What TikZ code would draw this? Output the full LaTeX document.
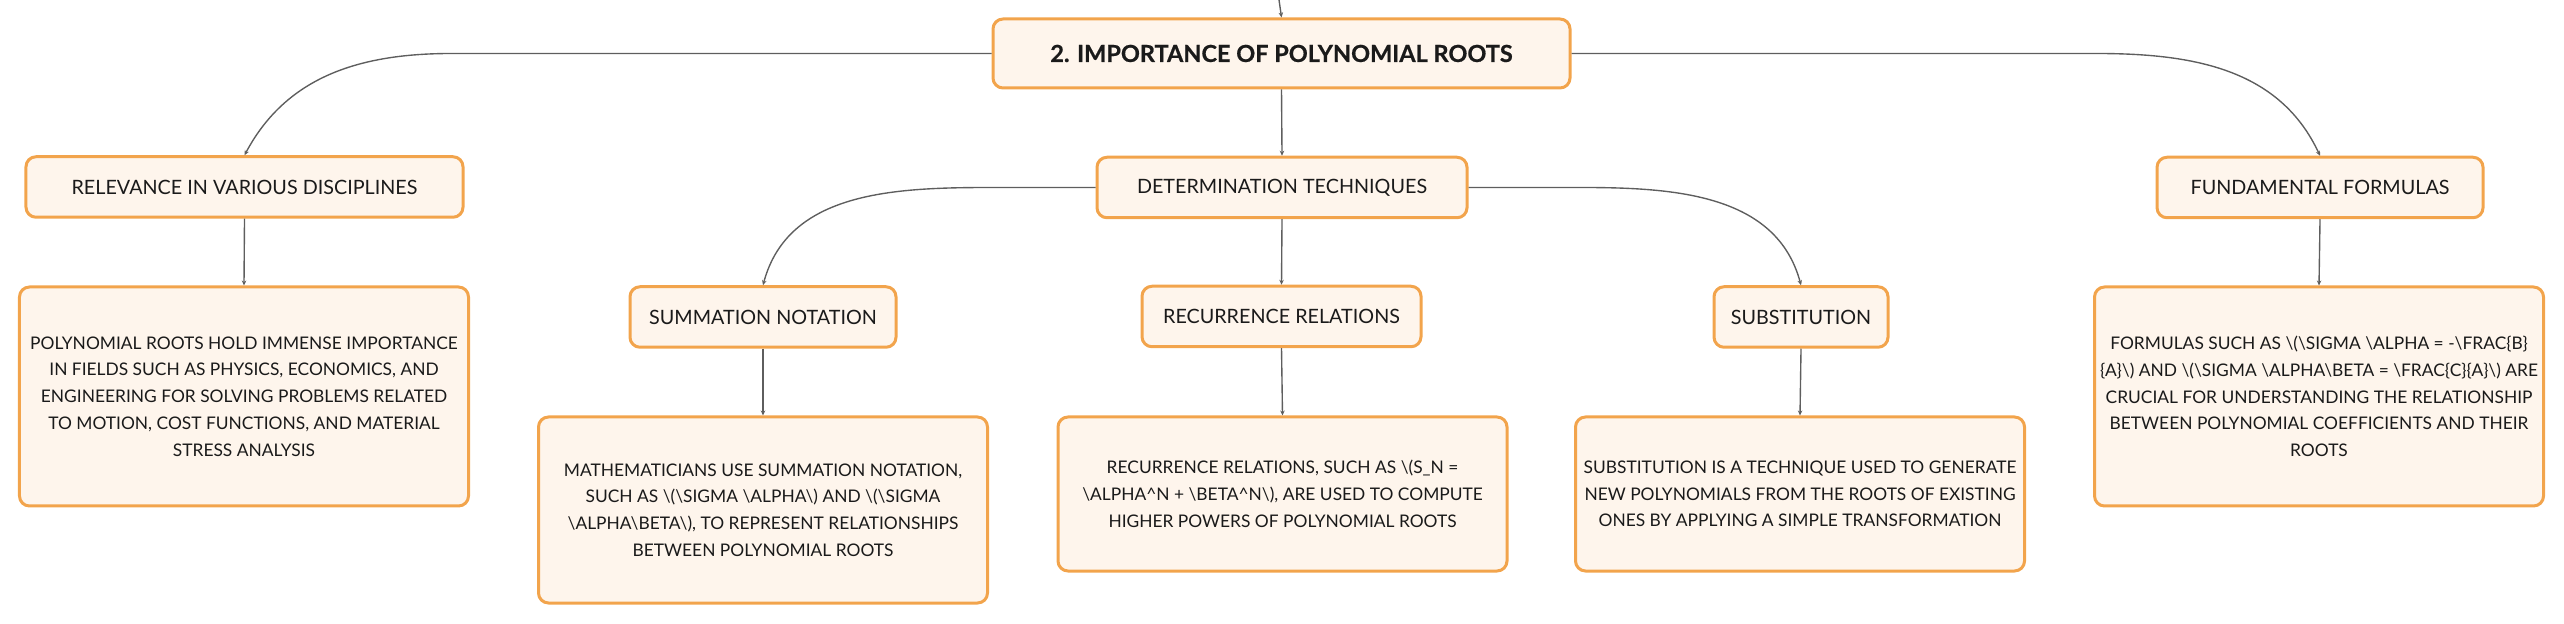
\documentclass[tikz,border=0pt]{standalone}
\usepackage{fontspec}
\setmainfont{Lato}
\usetikzlibrary{arrows.meta}
\definecolor{penColor}{HTML}{F2A44C}
\definecolor{boxColor}{HTML}{FEF5EC}
\definecolor{lineColor}{HTML}{5E5E5E}
\definecolor{inkColor}{HTML}{1A1A1A}
\tikzset{>={Stealth[length=2pt,width=1.8pt]}}
\tikzset{
  box/.style={draw=penColor, fill=boxColor, line width=1.2pt, rounded corners=4pt,
    text=inkColor, align=center, inner sep=2pt},
  title/.style={box, font=\fontsize{9.4}{11}\selectfont\bfseries,
    minimum width=230.8pt, minimum height=27.6pt},
  topic/.style={box, font=\fontsize{7.9}{10}\selectfont, minimum height=24.2pt},
  detail/.style={box, font=\fontsize{6.95}{10.7}\selectfont, minimum width=179.6pt},
  link/.style={->, draw=lineColor, line width=0.55pt}
}
\newcommand{\bs}{\textbackslash{}}
\newcommand{\up}{\textasciicircum{}}
\begin{document}
\begin{tikzpicture}[x=0.4pt,y=0.4pt]
\useasboundingbox (0,0) rectangle (2564,-624);
% main topic
\coordinate (top) at (1279,0);
\node[title] (root) at (1281.5,-53.5) {\addfontfeature{FakeBold=0.6}2. IMPORTANCE OF POLYNOMIAL ROOTS};
% first level
\node[topic, minimum width=174.8pt] (rel) at (244.5,-187) {RELEVANCE IN VARIOUS DISCIPLINES};
\node[topic, minimum width=148pt] (det) at (1282,-187.5) {DETERMINATION TECHNIQUES};
\node[topic, minimum width=130.4pt] (ff) at (2320,-187.5) {FUNDAMENTAL FORMULAS};
% second level
\node[topic, minimum width=106.4pt] (sum) at (763,-317) {SUMMATION NOTATION};
\node[topic, minimum width=111.6pt] (rec) at (1281.5,-316.5) {RECURRENCE RELATIONS};
\node[topic, minimum width=69.6pt] (sub) at (1801,-317) {SUBSTITUTION};
% details
\node[detail, minimum height=87.6pt] (reld) at (244,-396.5) {POLYNOMIAL ROOTS HOLD IMMENSE IMPORTANCE\\
  IN FIELDS SUCH AS PHYSICS, ECONOMICS, AND\\
  ENGINEERING FOR SOLVING PROBLEMS RELATED\\
  TO MOTION, COST FUNCTIONS, AND MATERIAL\\
  STRESS ANALYSIS};
\node[detail, minimum height=74.4pt] (sumd) at (763,-510) {MATHEMATICIANS USE SUMMATION NOTATION,\\
  SUCH AS \bs(\bs SIGMA \bs ALPHA\bs) AND \bs(\bs SIGMA\\
  \bs ALPHA\bs BETA\bs), TO REPRESENT RELATIONSHIPS\\
  BETWEEN POLYNOMIAL ROOTS};
\node[detail, minimum height=61.6pt] (recd) at (1282.5,-494) {RECURRENCE RELATIONS, SUCH AS \bs(S\_N =\\
  \bs ALPHA\up N + \bs BETA\up N\bs), ARE USED TO COMPUTE\\
  HIGHER POWERS OF POLYNOMIAL ROOTS};
\node[detail, minimum height=61.6pt] (subd) at (1800,-494) {SUBSTITUTION IS A TECHNIQUE USED TO GENERATE\\
  NEW POLYNOMIALS FROM THE ROOTS OF EXISTING\\
  ONES BY APPLYING A SIMPLE TRANSFORMATION};
\node[detail, minimum height=87.6pt] (ffd) at (2319,-396.5) {FORMULAS SUCH AS \bs(\bs SIGMA \bs ALPHA = -\bs FRAC\{B\}\\
  \{A\}\bs) AND \bs(\bs SIGMA \bs ALPHA\bs BETA = \bs FRAC\{C\}\{A\}\bs) ARE\\
  CRUCIAL FOR UNDERSTANDING THE RELATIONSHIP\\
  BETWEEN POLYNOMIAL COEFFICIENTS AND THEIR\\
  ROOTS};
% connectors
\draw[link] (top) -- (root.north);
\draw[link] (root.west) -- ++(-540,0) to[out=180,in=62] (rel.north);
\draw[link] (root.south) -- (det.north);
\draw[link] (root.east) -- ++(525,0) to[out=0,in=115] (ff.north);
\draw[link] (det.west) -- ++(-103,0) to[out=180,in=75] (sum.north);
\draw[link] (det.south) -- (rec.north);
\draw[link] (det.east) -- ++(113,0) to[out=0,in=105] (sub.north);
\draw[link] (rel.south) -- (reld.north);
\draw[link] (sum.south) -- (sumd.north);
\draw[link] (rec.south) -- (recd.north);
\draw[link] (sub.south) -- (subd.north);
\draw[link] (ff.south) -- (ffd.north);
\end{tikzpicture}
\end{document}
